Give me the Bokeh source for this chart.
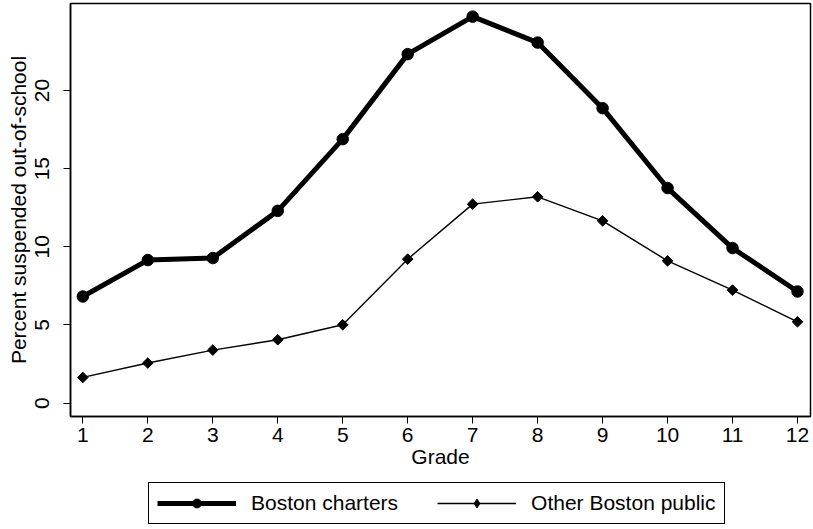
import math
from bokeh.plotting import figure
from bokeh.models import Legend, LegendItem, Range1d, FixedTicker
from bokeh.layouts import column
from bokeh.embed import file_html
from bokeh.resources import INLINE

grades = [1, 2, 3, 4, 5, 6, 7, 8, 9, 10, 11, 12]
charters = [6.82, 9.15, 9.28, 12.30, 16.89, 22.33, 24.73, 23.07, 18.87, 13.76, 9.92, 7.14]
other_public = [1.64, 2.56, 3.39, 4.05, 5.01, 9.21, 12.73, 13.20, 11.66, 9.10, 7.23, 5.20]
y_ticks = [0, 5, 10, 15, 20]
series_labels = ["Boston charters", "Other Boston public"]

FONT = "Liberation Sans"
FS = "21px"

p = figure(width=813, height=474,
           output_backend="svg", toolbar_location=None,
           x_range=Range1d(0.81, 12.2), y_range=Range1d(-0.86, 25.57),
           min_border_left=70, min_border_top=3, min_border_right=3, min_border_bottom=58)
p.background_fill_color = "white"
p.border_fill_color = "white"
p.outline_line_color = "black"
p.outline_line_width = 1.5
p.xgrid.visible = False
p.ygrid.visible = False

p.line(grades, charters, line_width=5, line_color="black")
p.scatter(grades, charters, marker="circle", size=11.5, fill_color="black", line_color="black")
p.line(grades, other_public, line_width=1.4, line_color="black")
p.scatter(grades, other_public, marker="square", angle=math.pi / 4, size=7.5,
          fill_color="black", line_color="black")

p.xaxis.ticker = FixedTicker(ticks=grades)
p.yaxis.ticker = FixedTicker(ticks=y_ticks)
p.yaxis.major_label_orientation = "vertical"
for ax in (p.xaxis, p.yaxis):
    ax.major_tick_out = 7
    ax.major_tick_in = 0
    ax.minor_tick_out = 0
    ax.minor_tick_in = 0
    ax.axis_line_color = "black"
    ax.axis_line_width = 1.5
    ax.major_tick_line_width = 1
    ax.major_label_text_font = FONT
    ax.major_label_text_font_size = FS
    ax.major_label_text_color = "black"
    ax.axis_label_text_font = FONT
    ax.axis_label_text_font_size = FS
    ax.axis_label_text_font_style = "normal"
    ax.axis_label_text_color = "black"
p.xaxis.axis_label = "Grade"
p.yaxis.axis_label = "Percent suspended out-of-school"
p.xaxis.major_label_standoff = 4
p.xaxis.axis_label_standoff = 0
p.yaxis.major_label_standoff = 14
p.yaxis.axis_label_standoff = 3

# legend panel below the chart (its renderers lie outside its visible ranges)
lg = figure(width=813, height=55, output_backend="svg", toolbar_location=None,
            x_range=Range1d(-100, -99), y_range=Range1d(-100, -99),
            min_border_left=70, min_border_top=0, min_border_right=3, min_border_bottom=0)
lg.axis.visible = False
lg.grid.visible = False
lg.outline_line_color = None
lg.background_fill_color = "white"
lg.border_fill_color = "white"
r1 = lg.line(grades, charters, line_width=5, line_color="black")
s1 = lg.scatter(grades, charters, marker="circle", size=9, fill_color="black", line_color="black")
r2 = lg.line(grades, other_public, line_width=1.4, line_color="black")
s2 = lg.scatter(grades, other_public, marker="diamond", size=10,
                fill_color="black", line_color="black")
legend = Legend(items=[LegendItem(label=series_labels[0], renderers=[r1, s1]),
                       LegendItem(label=series_labels[1], renderers=[r2, s2])],
                orientation="horizontal", location=(78, 5),
                label_text_font=FONT, label_text_font_size=FS, label_text_color="black",
                glyph_width=79, glyph_height=22, spacing=39, padding=8,
                border_line_color="black", border_line_width=1, border_line_alpha=1,
                background_fill_alpha=1, margin=0, label_standoff=15)
lg.add_layout(legend, "center")

layout = column(p, lg, spacing=0)
open("out.html", "w").write(file_html(layout, INLINE))
